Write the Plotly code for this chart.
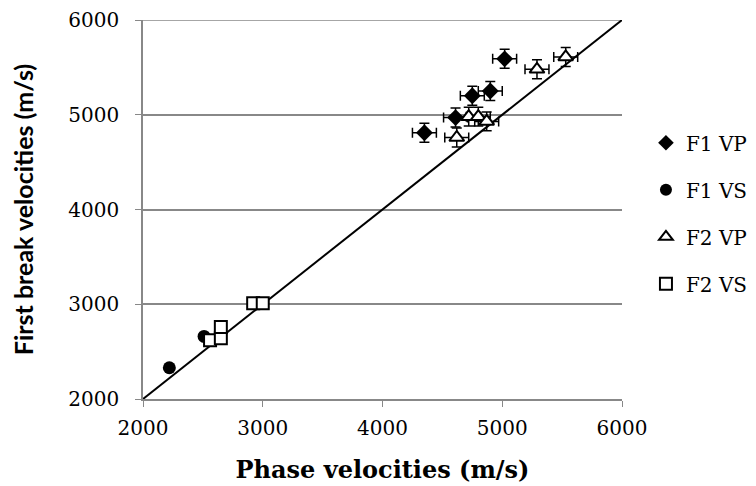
import plotly.graph_objects as go

# Data
f1_vp_x = [4350, 4610, 4750, 4900, 5020]
f1_vp_y = [4810, 4970, 5200, 5250, 5590]
f1_vs_x = [2220, 2510]
f1_vs_y = [2330, 2660]
f2_vp_x = [4620, 4720, 4800, 4870, 5290, 5530]
f2_vp_y = [4760, 4980, 4980, 4930, 5480, 5610]
f2_vs_x = [2560, 2650, 2650, 2920, 3000]
f2_vs_y = [2620, 2640, 2760, 3010, 3010]
vp_err = 100
line_x = [2000, 6000]
line_y = [2000, 6000]
tick_vals = [2000, 3000, 4000, 5000, 6000]

serif = "DejaVu Serif"
fig = go.Figure()

fig.add_trace(go.Scatter(x=line_x, y=line_y, mode="lines",
                         line=dict(color="black", width=2), showlegend=False,
                         hoverinfo="skip"))

err = dict(type="constant", value=vp_err, color="black", thickness=1.5, width=5)

fig.add_trace(go.Scatter(x=f1_vp_x, y=f1_vp_y, mode="markers", name="F1 VP",
                         legendgroup="a",
                         marker=dict(symbol="diamond", size=13, color="black"),
                         error_x=err, error_y=err))
fig.add_trace(go.Scatter(x=f1_vs_x, y=f1_vs_y, mode="markers", name="F1 VS",
                         legendgroup="b",
                         marker=dict(symbol="circle", size=13, color="black")))
fig.add_trace(go.Scatter(x=f2_vp_x, y=f2_vp_y, mode="markers", name="F2 VP",
                         legendgroup="c",
                         marker=dict(symbol="triangle-up", size=13, color="white",
                                     line=dict(color="black", width=2)),
                         error_x=err, error_y=err))
fig.add_trace(go.Scatter(x=f2_vs_x, y=f2_vs_y, mode="markers", name="F2 VS",
                         legendgroup="d",
                         marker=dict(symbol="square", size=12, color="white",
                                     line=dict(color="black", width=2))))

axis_common = dict(range=[2000, 6000], tickvals=tick_vals, ticks="outside",
                   ticklen=6, tickcolor="#888888", showline=True,
                   linecolor="#888888", linewidth=1.5, automargin=False,
                   ticklabeloverflow="allow",
                   tickfont=dict(family=serif, size=20, color="black"),
                   zeroline=False)

fig.update_xaxes(**axis_common, showgrid=False, ticklabelstandoff=4,
                 title=dict(text="<b>Phase velocities (m/s)</b>",
                            font=dict(family=serif, size=24, color="black"),
                            standoff=22))
fig.update_yaxes(**axis_common, showgrid=True, gridcolor="#888888", gridwidth=1.5,
                 ticklabelstandoff=12,
                 title=dict(text="<b>First break velocities (m/s)</b>",
                            font=dict(family="Lato", size=25, color="black"),
                            standoff=28))

# top gridline at the upper edge of the plot (plotly omits edge gridlines)
fig.add_shape(type="line", xref="paper", yref="y", x0=0, x1=1,
              y0=tick_vals[-1], y1=tick_vals[-1],
              line=dict(color="#888888", width=1.5), layer="below")

fig.update_layout(
    width=748, height=478,
    margin=dict(l=135, r=134, t=12, b=87, autoexpand=False),
    plot_bgcolor="white", paper_bgcolor="white",
    font=dict(family=serif, color="black"),
    legend=dict(x=1.05, y=0.49, xanchor="left", yanchor="middle",
                font=dict(family=serif, size=20, color="black"),
                traceorder="grouped", tracegroupgap=18,
                itemsizing="constant", bgcolor="rgba(0,0,0,0)"),
)

fig.write_html("out.html")
